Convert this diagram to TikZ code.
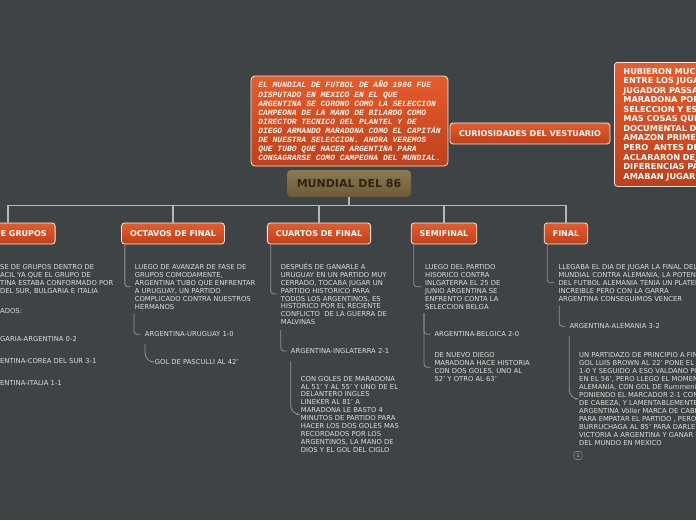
\documentclass[tikz,border=0pt]{standalone}
\usepackage{fontspec}
\setmainfont{DejaVu Sans}
\newfontfamily\typefont{Liberation Mono}
\usetikzlibrary{positioning}
\definecolor{bg}{HTML}{3E4446}
\definecolor{topic}{HTML}{E65C2C}
\definecolor{topicdark}{HTML}{BE401B}
\definecolor{root}{HTML}{8E7A52}
\definecolor{rootdark}{HTML}{6B593A}
\definecolor{roottext}{HTML}{33230F}
\definecolor{link}{HTML}{B4B8B8}
\definecolor{sublink}{HTML}{8E9494}
\definecolor{note}{HTML}{DADEDE}

\tikzset{
  topicbox/.style={rounded corners=3pt, top color=topic, bottom color=topicdark,
    draw=white!85!topic, line width=0.8pt, text=white,
    font=\bfseries\fontsize{8}{9}\selectfont, inner xsep=8.5pt, inner ysep=0pt, minimum height=21pt},
  notetext/.style={anchor=north west, inner sep=0pt, align=left, text=note,
    font=\fontsize{6.8}{7.95}\selectfont},
  branch/.style={draw=link, line width=1.3pt},
  twig/.style={draw=sublink, line width=0.8pt, rounded corners=3pt},
  curvetwig/.style={draw=sublink, line width=0.8pt, rounded corners=9pt},
}

\begin{document}
\begin{tikzpicture}[x=1pt,y=-1pt]
  \useasboundingbox (0,0) rectangle (696,520);
  \fill[bg] (0,0) rectangle (696,520);
  \clip (0,0) rectangle (696,520);

  % Centre and intro
  \node[rounded corners=4pt, top color=root, bottom color=rootdark, text=roottext,
        font=\bfseries\fontsize{11}{12}\selectfont, minimum width=124pt, minimum height=27pt]
        (mundial) at (349,183.5) {MUNDIAL DEL 86};

  \node[rounded corners=4pt, top color=topic, bottom color=topicdark, draw=white!85!topic,
        line width=0.8pt, text=white!94!orange, align=left, inner sep=0pt,
        font=\typefont\bfseries\itshape\fontsize{8}{9.08}\selectfont,
        minimum width=197pt, minimum height=90pt] (intro) at (349.5,121)
    {EL MUNDIAL DE FUTBOL DE AÑO 1986 FUE\\
     DISPUTADO EN MEXICO EN EL QUE\\
     ARGENTINA SE CORONO COMO LA SELECCION\\
     CAMPEONA DE LA MANO DE BILARDO COMO\\
     DIRECTOR TECNICO DEL PLANTEL Y DE\\
     DIEGO ARMANDO MARADONA COMO EL CAPITÁN\\
     DE NUESTRA SELECCION. AHORA VEREMOS\\
     QUE TUBO QUE HACER ARGENTINA PARA\\
     CONSAGRARSE COMO CAMPEONA DEL MUNDIAL.};

  % Right: vestuario
  \node[topicbox, minimum width=160pt] (vestuario) at (530,133.5) {CURIOSIDADES DEL VESTUARIO};
  \node[topicbox, anchor=north west, minimum width=120pt, minimum height=124pt, inner xsep=9pt,
        text width=102pt, align=left, font=\bfseries\fontsize{8.2}{9.545}\selectfont]
        (peleas) at (614,62)
    {HUBIERON MUC\\ENTRE LOS JUGA\\JUGADOR PASSA\\MARADONA POR\\SELECCION Y ES\\MAS COSAS QUE\\
     DOCUMENTAL DE\\AMAZON PRIME\\PERO~ ANTES DE\\ACLARARON DEJ\\DIFERENCIAS PA\\AMABAN JUGAR};

  % Stages
  \node[topicbox] (grupos) at (8,233.5) {FASE DE GRUPOS};
  \node[topicbox] (octavos) at (173,233.5) {OCTAVOS DE FINAL};
  \node[topicbox] (cuartos) at (319,233.5) {CUARTOS DE FINAL};
  \node[topicbox] (semi) at (444,233.5) {SEMIFINAL};
  \node[topicbox] (final) at (566,233.5) {FINAL};

  \coordinate (hub) at (349,205.5);
  \draw[branch] (mundial.south) -- (hub);
  \foreach \b in {grupos,octavos,cuartos,semi,final}
    \draw[branch] (hub) -| (\b.north);

  % Fase de grupos
  \node[notetext] (grupostxt) at (0,264.1)
    {SE DE GRUPOS DENTRO DE\\ACIL YA QUE EL GRUPO DE\\TINA ESTABA CONFORMADO POR\\ DEL SUR, BULGARIA E ITALIA};
  \node[notetext] (resultados) at (0,308.5) {ADOS:};
  \node[notetext] (bulgaria) at (0,336.5) {GARIA-ARGENTINA 0-2};
  \node[notetext] (corea) at (0,358.5) {ENTINA-COREA DEL SUR 3-1};
  \node[notetext] (italia) at (0,380) {ENTINA-ITALIA 1-1};

  % Octavos
  \node[notetext] (octavostxt) at (134.7,264.1)
    {LUEGO DE AVANZAR DE FASE DE\\GRUPOS COMODAMENTE,\\ARGENTINA TUBO QUE ENFRENTAR\\
     A URUGUAY, UN PARTIDO\\COMPLICADO CONTRA NUESTROS\\HERMANOS};
  \node[notetext] (uruguay) at (144.7,331.5) {ARGENTINA-URUGUAY 1-0};
  \node[notetext] (pasculli) at (154.7,359.2) {GOL DE PASCULLI AL 42'};
  \draw[twig] ([xshift=3.7pt]octavos.south west) |- ([xshift=-4pt]octavostxt.west);
  \draw[twig] ([xshift=-0.7pt,yshift=-4pt]octavostxt.south west) |- ([xshift=-4pt]uruguay.west);
  \draw[curvetwig] ([xshift=0.3pt,yshift=-7pt]uruguay.south west) |- ([xshift=-4pt]pasculli.west);

  % Cuartos
  \node[notetext] (cuartostxt) at (280.7,262.7)
    {DESPUÉS DE GANARLE A\\URUGUAY EN UN PARTIDO MUY\\CERRADO, TOCABA JUGAR UN\\
     PARTIDO HISTORICO PARA\\TODOS LOS ARGENTINOS, ES\\HISTORICO POR EL RECIENTE\\
     CONFLICTO~ DE LA GUERRA DE\\MALVINAS};
  \node[notetext] (inglaterra) at (290.7,348.2) {ARGENTINA-INGLATERRA 2-1};
  \node[notetext] (goles) at (300.7,375.8)
    {CON GOLES DE MARADONA\\AL 51' Y AL 55' Y UNO DE EL\\DELANTERO INGLES\\LINEKER AL 81' A\\
     MARADONA LE BASTO 4\\MINUTOS DE PARTIDO PARA\\HACER LOS DOS GOLES MAS\\
     RECORDADOS POR LOS\\ARGENTINOS, LA MANO DE\\DIOS Y EL GOL DEL CIGLO};
  \draw[twig] ([xshift=3.7pt]cuartos.south west) |- ([xshift=-4pt]cuartostxt.west);
  \draw[twig] ([yshift=-5pt]cuartostxt.south west) |- ([xshift=-4pt]inglaterra.west);
  \draw[curvetwig] ([yshift=-7pt]inglaterra.south west) |- ([xshift=-4pt]goles.west);

  % Semifinal
  \node[notetext] (semitxt) at (425,264.1)
    {LUEGO DEL PARTIDO\\HISORICO CONTRA\\INLGATERRA EL 25 DE\\JUNIO ARGENTINA SE\\
     ENFRENTO CONTA LA\\SELECCION BELGA};
  \node[notetext] (belgica) at (434.3,331.5) {ARGENTINA-BELGICA 2-0};
  \node[notetext] (nuevo) at (434.3,352.5)
    {DE NUEVO DIEGO\\MARADONA HACE HISTORIA\\CON DOS GOLES, UNO AL\\52' Y OTRO AL 63'};
  \draw[twig] ([xshift=3pt]semi.south west) |- ([xshift=-4pt]semitxt.west);
  \draw[twig] ([xshift=-1pt,yshift=-4pt]semitxt.south west) |- ([xshift=-4pt]belgica.west);
  \draw[twig] ([xshift=-1pt,yshift=-4pt]semitxt.south west) |- ([xshift=-4pt]nuevo.west);

  % Final
  \node[notetext] (finaltxt) at (558.3,264.1)
    {LLEGABA EL DIA DE JUGAR LA FINAL DEL\\MUNDIAL CONTRA ALEMANIA, LA POTENC\\
     DEL FUTBOL ALEMANIA TENIA UN PLATEL\\INCREIBLE PERO CON LA GARRA\\ARGENTINA CONSEGUIMOS VENCER};
  \node[notetext] (alemania) at (569.3,323.5) {ARGENTINA-ALEMANIA 3-2};
  \node[notetext] (partidazo) at (579,352.5)
    {UN PARTIDAZO DE PRINCIPIO A FIN\\GOL LUIS BROWN AL 22' PONE EL M\\
     1-0 Y SEGUIDO A ESO VALDANO PO\\EN EL 56', PERO LLEGO EL MOMENT\\
     ALEMANIA, CON GOL DE Rummenig\\PONIENDO EL MARCADOR 2-1 CON\\
     DE CABEZA, Y LAMENTABLEMENTE E\\ARGENTINA Völler MARCA DE CABEZ\\
     PARA EMPATAR EL PARTIDO , PERO\\BURRUCHAGA AL 85' PARA DARLE L\\
     VICTORIA A ARGENTINA Y GANAR L\\DEL MUNDO EN MEXICO};
  \draw[twig] ([xshift=3.3pt]final.south west) |- ([xshift=-4pt]finaltxt.west);
  \draw[twig] ([xshift=1pt,yshift=-4pt]finaltxt.south west) |- ([xshift=-4pt]alemania.west);
  \draw[curvetwig] ([yshift=-7pt]alemania.south west) |- ([xshift=-4pt]partidazo.west);
  \node[draw=gray, line width=0.6pt, rounded corners=2pt, text=gray!80, inner sep=0pt,
        minimum size=8pt, font=\bfseries\fontsize{5}{5}\selectfont] (nota) at (578,455.5) {1};
\end{tikzpicture}
\end{document}
